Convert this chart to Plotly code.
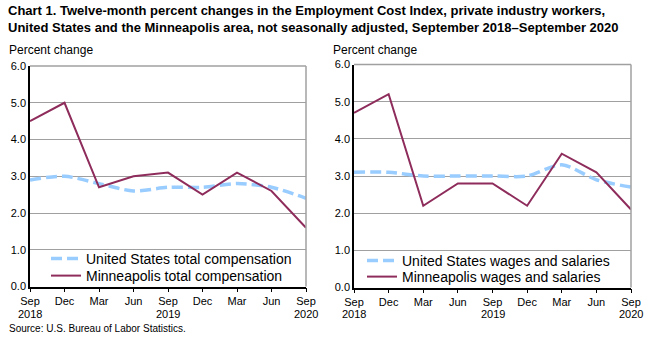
import plotly.graph_objects as go

months = ["Sep", "Dec", "Mar", "Jun", "Sep", "Dec", "Mar", "Jun", "Sep"]
years = {0: "2018", 4: "2019", 8: "2020"}
xpos = list(range(len(months)))

us_total = [2.9, 3.0, 2.8, 2.6, 2.7, 2.7, 2.8, 2.7, 2.4]
mpls_total = [4.5, 5.0, 2.7, 3.0, 3.1, 2.5, 3.1, 2.6, 1.6]
us_wages = [3.1, 3.1, 3.0, 3.0, 3.0, 3.0, 3.3, 2.9, 2.7]
mpls_wages = [4.7, 5.2, 2.2, 2.8, 2.8, 2.2, 3.6, 3.1, 2.1]

yticks = [0, 1, 2, 3, 4, 5, 6]

BLUE = "#99CCFF"
MAROON = "#8E2D5C"
GRID = "#A0A0A0"
FONT = "Liberation Sans, Arial, sans-serif"

W, H = 653, 339
def fx(px): return px / W
def fy(py): return 1 - py / H

fig = go.Figure()

dashed = dict(color=BLUE, width=3.5, dash="11px,5px", shape="spline", smoothing=0.8)
solid = dict(color=MAROON, width=2)

fig.add_trace(go.Scatter(x=xpos, y=us_total, mode="lines", name="United States total compensation",
                         line=dashed, xaxis="x", yaxis="y", legend="legend"))
fig.add_trace(go.Scatter(x=xpos, y=mpls_total, mode="lines", name="Minneapolis total compensation",
                         line=solid, xaxis="x", yaxis="y", legend="legend2"))
fig.add_trace(go.Scatter(x=xpos, y=us_wages, mode="lines", name="United States wages and salaries",
                         line=dashed, xaxis="x2", yaxis="y2", legend="legend3"))
fig.add_trace(go.Scatter(x=xpos, y=mpls_wages, mode="lines", name="Minneapolis wages and salaries",
                         line=solid, xaxis="x2", yaxis="y2", legend="legend4"))

xcommon = dict(range=[0, 8], tickvals=xpos, ticktext=months, showline=True, linecolor="black",
               linewidth=1.5, ticks="outside", ticklen=4, tickcolor="black", showgrid=False,
               zeroline=False, tickfont=dict(size=11, color="black", family=FONT), fixedrange=True,
               automargin=False)
ycommon = dict(range=[0, 6], tickvals=yticks, tickformat=".1f", showline=True, linecolor="black",
               linewidth=1.5, showgrid=True, gridcolor=GRID, gridwidth=1, zeroline=False,
               ticks="", tickfont=dict(size=11, color="black", family=FONT), fixedrange=True,
               automargin=False)

def leg(xp, yp):
    return dict(x=fx(xp), y=fy(yp), xanchor="left", yanchor="middle", bgcolor="rgba(0,0,0,0)",
                font=dict(size=14, color="black", family=FONT), itemwidth=30, borderwidth=0)

fig.update_layout(
    width=W, height=H,
    margin=dict(l=0, r=0, t=0, b=0, autoexpand=False),
    paper_bgcolor="white", plot_bgcolor="white",
    font=dict(family=FONT, color="black"),
    showlegend=True,
    xaxis=dict(domain=[fx(30), fx(306)], anchor="y", **xcommon),
    yaxis=dict(domain=[fy(286.5), fy(66)], anchor="x", **ycommon),
    xaxis2=dict(domain=[fx(354), fx(631)], anchor="y2", **xcommon),
    yaxis2=dict(domain=[fy(287.5), fy(64.5)], anchor="x2", **ycommon),
    legend=leg(46, 259),
    legend2=leg(46, 276),
    legend3=leg(362, 261),
    legend4=leg(362, 277),
)

shapes = []
for xr, yr in (("x", "y"), ("x2", "y2")):
    shapes.append(dict(type="line", xref=f"{xr} domain", yref=f"{yr} domain", x0=0, x1=1, y0=1, y1=1,
                       line=dict(color=GRID, width=1.5)))
    shapes.append(dict(type="line", xref=f"{xr} domain", yref=f"{yr} domain", x0=1, x1=1, y0=0, y1=1,
                       line=dict(color=GRID, width=1.5)))
fig.update_layout(shapes=shapes)

ann = [
    dict(text="<b>Chart 1. Twelve-month percent changes in the Employment Cost Index, private industry workers,<br>"
              "United States and the Minneapolis area, not seasonally adjusted, September 2018–September 2020</b>",
         x=fx(6), y=fy(1), xanchor="left", yanchor="top", align="left", showarrow=False,
         xref="paper", yref="paper",
         font=dict(size=13, family=FONT, color="black")),
    dict(text="Percent change", x=fx(7), y=fy(50), xanchor="left", yanchor="middle", showarrow=False,
         xref="paper", yref="paper", font=dict(size=12, color="black")),
    dict(text="Percent change", x=fx(331), y=fy(50), xanchor="left", yanchor="middle", showarrow=False,
         xref="paper", yref="paper", font=dict(size=12, color="black")),
    dict(text="Source: U.S. Bureau of Labor Statistics.", x=fx(7), y=fy(328), xanchor="left", yanchor="middle",
         xref="paper", yref="paper", showarrow=False, font=dict(size=10, color="black")),
]
for xr in ("x", "x2"):
    for i, yr in years.items():
        ann.append(dict(text=yr, x=i, xref=xr, y=fy(306.5), yref="paper", xanchor="center", yanchor="top",
                        showarrow=False, borderpad=0, font=dict(size=11, color="black", family=FONT)))
fig.update_layout(annotations=ann)

fig.write_html("out.html")
